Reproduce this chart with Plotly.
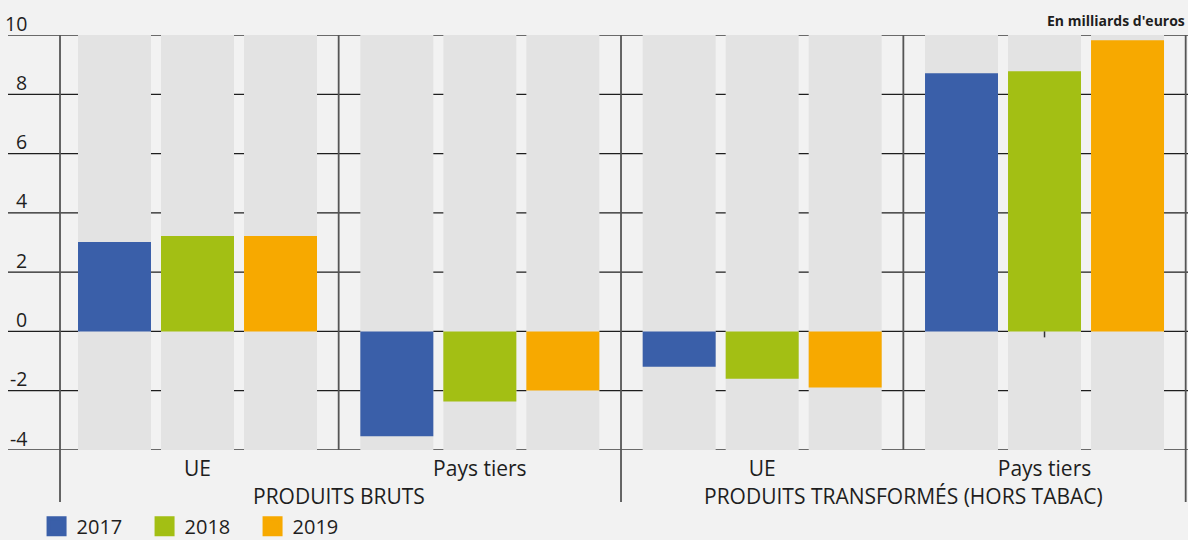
import plotly.graph_objects as go

# ---- data ----
categories = ["UE", "Pays tiers", "UE", "Pays tiers"]
groups = ["PRODUITS BRUTS", "PRODUITS TRANSFORMÉS (HORS TABAC)"]
years = ["2017", "2018", "2019"]
values_2017 = [3.02, -3.54, -1.19, 8.71]
values_2018 = [3.22, -2.36, -1.60, 8.78]
values_2019 = [3.22, -1.99, -1.89, 9.82]
y_ticks = [10, 8, 6, 4, 2, 0, -2, -4]
unit_label = "En milliards d'euros"

series = [values_2017, values_2018, values_2019]
colors = ["#3a5fa9", "#a3bf14", "#f7a900"]

FONT = "Open Sans"
TXT = "#1e1e1e"
BG = "#f2f2f2"
BAND = "#e3e3e3"

x_pos = list(range(len(categories)))
slot = 0.294      # spacing between bars of a group (category units)
bar_w = 0.2585    # bar width (category units)

fig = go.Figure()

shapes = []
# grey background bands behind every bar slot
for xi in x_pos:
    for k in range(len(years)):
        off = (k - 1) * slot - bar_w / 2
        shapes.append(dict(type="rect", xref="x", yref="y", layer="below",
                           x0=xi + off, x1=xi + off + bar_w,
                           y0=min(y_ticks), y1=max(y_ticks),
                           fillcolor=BAND, line=dict(width=0)))
# horizontal grid lines (extend across the whole width)
for t in y_ticks:
    edge = t in (max(y_ticks), min(y_ticks))
    shapes.append(dict(type="line", xref="paper", yref="y", layer="below",
                       x0=0, x1=1, y0=t, y1=t,
                       line=dict(color="#6a6a6a" if edge else "#1e1e1e",
                                 width=2 if edge else 1.3)))
# vertical separators
n = len(categories)
seps = [(-0.487, True), (0.5, False), (1.5, True), (2.5, False), (n - 0.5, True)]
for xs, long_ in seps:
    shapes.append(dict(type="line", xref="x", yref="paper", layer="below",
                       x0=xs, x1=xs, y0=-0.1253 if long_ else 0, y1=1,
                       line=dict(color="#555555", width=1.8)))
# small stray tick under the last group
shapes.append(dict(type="line", xref="x", yref="y", layer="above",
                   x0=3, x1=3, y0=0, y1=-0.2, line=dict(color="#333333", width=1.5)))

for k, (yr, vals, col) in enumerate(zip(years, series, colors)):
    off = (k - 1) * slot - bar_w / 2
    fig.add_trace(go.Bar(x=x_pos, y=vals, name=yr, width=bar_w, offset=off,
                         marker=dict(color=col, line=dict(width=0)),
                         showlegend=False, hoverinfo="skip"))
    # legend proxy
    fig.add_trace(go.Scatter(x=[None], y=[None], mode="markers", name=yr,
                             marker=dict(symbol="square", size=16, color=col,
                                         line=dict(color=col, width=4)),
                             showlegend=True, hoverinfo="skip"))

annotations = []
# y tick labels sitting above their grid lines
for t in y_ticks:
    annotations.append(dict(xref="paper", yref="y", x=0.0178, y=t, text=str(t),
                            xanchor="right", yanchor="middle", yshift=12,
                            showarrow=False, font=dict(family=FONT, size=19.5, color=TXT)))
# group labels
for gi, g in enumerate(groups):
    annotations.append(dict(xref="x", yref="paper", x=gi * 2 + 0.5, y=-0.112, text=g,
                            xanchor="center", yanchor="middle", showarrow=False,
                            font=dict(family=FONT, size=21, color=TXT)))
annotations.append(dict(xref="paper", yref="paper", x=1, y=1, text="<b>" + unit_label + "</b>",
                        xanchor="right", yanchor="bottom", yshift=3, xshift=-1,
                        showarrow=False, font=dict(family=FONT, size=14, color=TXT)))

fig.update_layout(
    width=1188, height=540,
    margin=dict(l=8, r=0, t=35, b=90, autoexpand=False),
    paper_bgcolor=BG, plot_bgcolor=BG,
    barmode="overlay",
    font=dict(family=FONT, size=18, color=TXT),
    xaxis=dict(range=[-0.6712, 3.5082], tickvals=x_pos, ticktext=categories,
               showgrid=False, zeroline=False, showline=False, ticks="",
               tickfont=dict(family=FONT, size=21, color=TXT), ticklabelstandoff=4,
               fixedrange=True),
    yaxis=dict(range=[min(y_ticks), max(y_ticks)], showgrid=False, zeroline=False,
               showline=False, showticklabels=False, ticks="", fixedrange=True),
    shapes=shapes, annotations=annotations,
    legend=dict(orientation="h", x=0.0242, xanchor="left", y=-0.137, yanchor="top",
                font=dict(family=FONT, size=20, color=TXT), bgcolor="rgba(0,0,0,0)",
                entrywidth=63, entrywidthmode="pixels", itemclick=False, itemdoubleclick=False),
    showlegend=True,
)

fig.write_html("out.html", config={"displayModeBar": False},
               post_script="document.body.style.margin='0';")
